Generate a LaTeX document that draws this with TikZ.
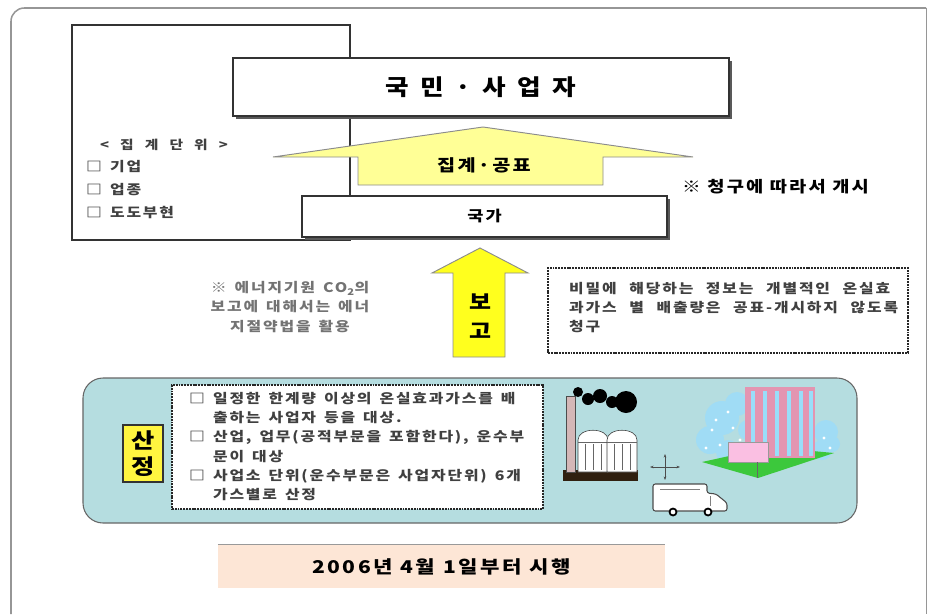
\documentclass[tikz,border=0pt]{standalone}
\usepackage{fontspec}
\setmainfont[FakeStretch=1.2]{Noto Sans CJK KR}
\newfontfamily\krwide[FakeStretch=1.2, LetterSpace=14]{Noto Sans CJK KR}
\newfontfamily\krtitle[FakeStretch=1.15, LetterSpace=25]{Noto Sans CJK KR}
\newcommand\widewords[1]{\spaceskip=#1\relax}
\usetikzlibrary{shadows, arrows.meta}

\definecolor{panelblue}{RGB}{181,221,224}
\definecolor{paleyellow}{RGB}{255,255,150}
\definecolor{brightyellow}{RGB}{255,255,30}
\definecolor{peach}{RGB}{253,230,214}
\definecolor{framegray}{RGB}{150,150,150}
\definecolor{treeblue}{RGB}{160,220,245}
\definecolor{lawn}{RGB}{60,200,60}

\tikzset{
  box/.style={draw=black!80, line width=0.9pt, fill=white, inner sep=0pt},
  shadowbox/.style={box, drop shadow={shadow xshift=0.9mm, shadow yshift=-0.9mm, fill=black!65, opacity=1}},
  notebox/.style={draw=black!85, line width=1.5pt, dash pattern=on 1.6pt off 0.8pt, fill=white, inner sep=0pt},
  bigarrow/.style={draw=black!45, line width=0.8pt},
  heading/.style={font={\krwide\fontsize{#1}{#1}\selectfont\bfseries}, inner sep=0pt},
  small/.style={font={\krwide\fontsize{11.3}{16.4}\selectfont\bfseries\widewords{.6em}}, text=black!75, inner sep=0pt},
}

\begin{document}
\begin{tikzpicture}[x=0.3mm, y=-0.3mm]
  \useasboundingbox (0,0) rectangle (932,614);
  % outer frame
  \draw[framegray, line width=1.3pt, rounded corners=4mm] (11,614) -- (11,8) -- (926,8);
  \draw[framegray, line width=0.6pt] (926,8) -- (926,614);

  % aggregation unit box (behind the arrow)
  \node[box, minimum width=83.4mm, minimum height=64.5mm] (unit) at (211,132.5) {};
  \node[small, font={\krwide\fontsize{10.5}{12}\selectfont\bfseries\widewords{.9em}}] (unithead) at (164,145) {< 집 계 단 위 >};
  \node[small, anchor=west] (unit1) at (86,167) {□ 기업};
  \node[small, anchor=west] (unit2) at (86,190) {□ 업종};
  \node[small, anchor=west] (unit3) at (86,213) {□ 도도부현};

  % publish arrow
  \draw[bigarrow, fill=paleyellow] (358,185) -- (358,157) -- (273,157) -- (483,127)
    -- (693,157) -- (603,157) -- (603,185) -- cycle;
  \node[heading=14] (publish) at (484,165) {집계·공표};

  \node[shadowbox, minimum width=148.8mm, minimum height=17.4mm, font={\krtitle\fontsize{19}{19}\selectfont\bfseries}]
    (people) at (481,87) {국 민 · 사 업 자};
  \node[shadowbox, minimum width=109.5mm, minimum height=12.3mm, heading=12.5] (state) at (484.5,216.5) {국가};
  \node[heading=13.3, anchor=west] (request) at (682,187) {※ 청구에 따라서 개시};

  % report arrow
  \draw[bigarrow, fill=brightyellow] (453,357) -- (453,273) -- (432,273) -- (480,248)
    -- (528,273) -- (505,273) -- (505,357) -- cycle;
  \node[align=center, font={\fontsize{17}{25}\selectfont\bfseries}] (report) at (480,316) {보\\고};

  \node[small, align=center, text=black!55] (energy) at (290,307) {※ 에너지기원 CO\textsubscript{2}의\\보고에 대해서는 에너\\지절약법을 활용};

  \node[notebox, minimum width=108mm, minimum height=25.5mm] (secret) at (728,310.5) {};
  \node[small, anchor=north west, align=left, font={\krwide\fontsize{11.3}{16.4}\selectfont\bfseries\widewords{.95em}}]
    (secrettext) at (569,282) {비밀에 해당하는 정보는 개별적인 온실효\\과가스 별 배출량은 공표-개시하지 않도록\\청구};

  % calculation panel
  \node[draw=black!60, line width=0.9pt, fill=panelblue, rounded corners=6mm,
    minimum width=232.2mm, minimum height=43.5mm] (panel) at (470,450.5) {};
  \node[draw=black!80, line width=0.9pt, fill=yellow!75, minimum width=12mm, minimum height=17.1mm,
    align=center, font={\fontsize{18}{22}\selectfont\bfseries}] (calc) at (143,453.5) {산\\정};
  \node[notebox, minimum width=111.3mm, minimum height=37.2mm] (scope) at (357.5,447) {};
  \node[small, anchor=north west, align=left] (scopetext) at (189,392)
    {□ 일정한 한계량 이상의 온실효과가스를 배\\
     \phantom{□ }출하는 사업자 등을 대상.\\
     □ 산업, 업무(공적부문을 포함한다), 운수부\\
     \phantom{□ }문이 대상\\
     □ 사업소 단위(운수부문은 사업자단위) 6개\\
     \phantom{□ }가스별로 산정};

  % factory
  \fill[black!75!brown] (563,470) rectangle (638,481);
  \draw[black!70, fill=red!25!gray!45, line width=0.4pt] (566,396) rectangle (575,472);
  \foreach \cx/\cy/\r in {578/392/5, 588/399/6, 600/396/7, 612/402/6, 626/402/11}
    \fill[black] (\cx,\cy) circle[radius=\r];
  \foreach \sx in {578,607} {
    \draw[black!75, fill=white, line width=0.5pt] (\sx,472) -- (\sx,440)
      .. controls (\sx,427) and (\sx+30,427) .. (\sx+30,440) -- (\sx+30,472) -- cycle;
    \draw[black!60, line width=0.5pt] (\sx,442) -- (\sx+30,442);
    \foreach \k in {7,15,23}
      \draw[black!60, line width=0.6pt] (\sx+\k,444) -- (\sx+\k,470);
  }

  % crossing arrows
  \foreach \dx/\dy in {15/0,-15/0,0/13,0/-13}
    \draw[black!70, line width=0.7pt, -{Stealth[length=3pt]}] (665,467) -- (665+\dx,467+\dy);

  % van
  \draw[black!70, fill=white, line width=0.9pt, rounded corners=2pt] (653,511) -- (653,484)
    -- (707,484) -- (707,493) -- (716,494) -- (727,503) -- (727,511) -- cycle;
  \draw[black!50, line width=0.5pt] (660,489) -- (700,489);
  \draw[black!50, line width=0.5pt] (710,496) -- (710,506);
  \foreach \wx in {673,708}
    \draw[black, fill=white, line width=1.5pt] (\wx,512) circle[radius=3.5];

  % office building with trees
  \foreach \cx/\cy/\r in {722/418/17, 710/440/14, 737/404/12, 728/452/12, 748/430/10, 826/432/12, 822/450/10, 832/444/8}
    \fill[treeblue] (\cx,\cy) circle[radius=\r];
  \foreach \cx/\cy in {712/430, 720/445, 728/412, 733/428, 706/448, 740/440, 824/438, 830/448, 716/420}
    \fill[white] (\cx,\cy) circle[radius=1.6];
  \fill[lawn] (702,462) -- (770,447) -- (834,453) -- (758,478) -- cycle;
  \fill[violet!22!pink] (745,387) rectangle (815,458);
  \foreach \bx in {751,763,775,787,799,809}
    \fill[cyan!40] (\bx,391) rectangle (\bx+4,456);
  \fill[magenta!25] (728,442) rectangle (768,462);
  \draw[black!40, line width=0.4pt] (728,442) rectangle (768,462);
  \draw[black!60, line width=0.5pt] (757,462) -- (757,478);

  % start date
  \node[fill=peach, minimum width=134.1mm, minimum height=12.9mm,
    font={\krwide\fontsize{15}{15}\selectfont\bfseries\widewords{.45em}}] (start) at (441.5,566.5) {2006년 4월 1일부터 시행};
  \draw[black!40, line width=1.2pt] (start.north west) -- (start.north east);
\end{tikzpicture}
\end{document}
